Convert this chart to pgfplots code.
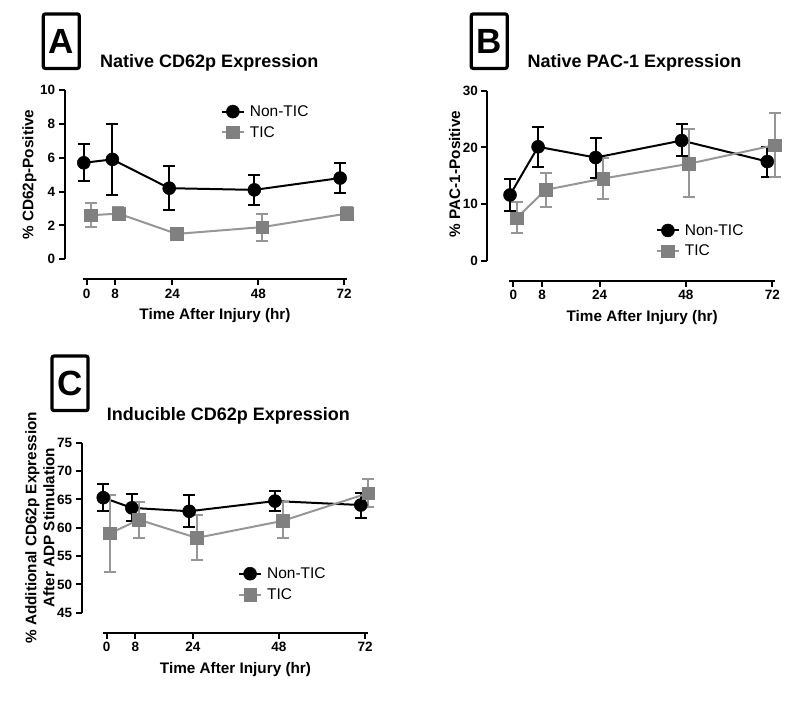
\documentclass[border=0pt]{standalone}
\usepackage{fontspec}
\setmainfont{Liberation Sans}
\usepackage{xcolor}
\usepackage{pgfplots}
\pgfplotsset{compat=1.18}
\definecolor{ticgray}{RGB}{128,128,128}
\definecolor{ticline}{RGB}{150,150,150}

\pgfplotsset{
  panel/.style={
    scale only axis,
    axis x line*=bottom, axis y line*=left,
    axis x line shift=20pt,
    xtick={0,8,24,48,72},
    tick align=outside, major tick length=6pt,
    axis line style={line width=2.2pt},
    tick style={line width=2pt, black},
    tick label style={font=\fontsize{13.5}{16}\selectfont\bfseries},
    /pgf/number format/assume math mode=true,
    label style={font=\fontsize{15.3}{18}\selectfont\bfseries},
    xlabel={Time After Injury (hr)},
    clip=false,
    legend cell align=left,
    legend style={draw=none, fill=none, anchor=west, row sep=6.5pt,
      inner sep=0pt, nodes={inner sep=1pt}, column sep=4pt,
      font=\fontsize{15.5}{17}\selectfont},
    legend image code/.code={
      \draw[mark repeat=2, mark phase=2, #1] plot coordinates {(0pt,0pt) (11pt,0pt) (22pt,0pt)};},
  },
  nontic/.style={black, line width=2pt, mark=*, mark size=6.5pt,
    mark options={solid, line width=0.5pt},
    error bars/.cd, y dir=both, y explicit,
    error bar style={line width=2pt, black},
    error mark options={rotate=90, mark size=6pt, line width=2pt, black}},
  tic/.style={ticline, line width=2pt, mark=square*, mark size=6.3pt,
    mark options={solid, line width=0.5pt, draw=ticgray, fill=ticgray},
    error bars/.cd, y dir=both, y explicit,
    error bar style={line width=2pt, ticline},
    error mark options={rotate=90, mark size=6pt, line width=2pt, ticline}},
}

% x  y  plus  minus
\pgfplotstableread{
x y ep em
-0.8 5.7 1.1 1.1
7.2 5.9 2.1 2.1
23.1 4.2 1.3 1.3
46.9 4.1 0.9 0.9
70.9 4.8 0.9 0.9
}\aNon
\pgfplotstableread{
x y ep em
1.1 2.6 0.7 0.7
8.9 2.7 0.4 0.4
25.2 1.5 0.2 0.2
49.1 1.9 0.8 0.8
72.8 2.7 0.4 0.4
}\aTic
\pgfplotstableread{
x y ep em
-0.9 11.6 2.8 2.8
6.9 20.1 3.5 3.5
22.9 18.2 3.4 3.6
46.8 21.2 2.9 2.8
70.6 17.5 2.6 2.7
}\bNon
\pgfplotstableread{
x y ep em
0.9 7.5 2.8 2.7
9.0 12.5 3.0 3.0
25.0 14.5 3.6 3.6
48.8 17.1 6.1 5.9
72.7 20.4 5.6 5.6
}\bTic
\pgfplotstableread{
x y ep em
-0.95 65.3 2.4 2.4
7.0 63.5 2.4 2.4
23.0 62.9 2.9 2.7
46.9 64.7 1.8 1.7
70.8 64.0 2.2 2.3
}\cNon
\pgfplotstableread{
x y ep em
0.9 59.0 6.8 6.8
9.0 61.4 3.2 3.3
25.1 58.2 4.0 3.9
49.0 61.2 3.3 3.1
72.9 66.1 2.5 2.4
}\cTic

\begin{document}
\begin{tikzpicture}
\useasboundingbox (0pt,0pt) rectangle (800pt,709pt);

% panel letters and titles
\foreach \px/\py/\lt in {61.3/667.8/A, 489.2/667.8/B, 70/325.7/C}{
  \node[draw, line width=3.2pt, rounded corners=2pt, minimum width=36pt,
        minimum height=54.5pt, font=\fontsize{35}{40}\selectfont\bfseries]
        at (\px pt,\py pt) {\lt};
}
\node[anchor=base west, font=\fontsize{18}{21}\selectfont\bfseries] at (96.7pt,641pt) {Native CD62p Expression};
\node[anchor=base west, font=\fontsize{18}{21}\selectfont\bfseries] at (524pt,641pt) {Native PAC-1 Expression};
\node[anchor=base west, font=\fontsize{18}{21}\selectfont\bfseries] at (103.3pt,288.3pt) {Inducible CD62p Expression};

% Panel A
\begin{axis}[panel,
  at={(82.7pt,449.7pt)}, anchor=south west,
  width=264.6pt, height=169.3pt,
  axis y line shift=18pt,
  xmin=-1.1, xmax=72.9, ymin=0, ymax=10, ytick={0,2,...,10},
  ylabel={\% CD62p-Positive},
  xlabel style={at={(axis description cs:0.5,-0.356)}, anchor=base},
  ylabel style={at={(axis description cs:-0.1867,0.5)}, anchor=base},
  legend style={at={(0.5215,0.811)}},
]
\addplot[nontic] table[x=x, y=y, y error plus=ep, y error minus=em] {\aNon};
\addlegendentry{Non-TIC}
\addplot[tic] table[x=x, y=y, y error plus=ep, y error minus=em] {\aTic};
\addlegendentry{TIC}
\end{axis}

% Panel B
\begin{axis}[panel,
  at={(509.3pt,448.3pt)}, anchor=south west,
  width=265.7pt, height=170pt,
  axis y line shift=22pt,
  xmin=-1.1, xmax=72.75, ymin=0, ymax=30, ytick={0,10,20,30},
  ylabel={\% PAC-1-Positive},
  xlabel style={at={(axis description cs:0.5,-0.355)}, anchor=base},
  ylabel style={at={(axis description cs:-0.1855,0.51)}, anchor=base},
  legend style={at={(0.551,0.1165)}},
]
\addplot[nontic] table[x=x, y=y, y error plus=ep, y error minus=em] {\bNon};
\addlegendentry{Non-TIC}
\addplot[tic] table[x=x, y=y, y error plus=ep, y error minus=em] {\bTic};
\addlegendentry{TIC}
\end{axis}

% Panel C
\begin{axis}[panel,
  at={(102.7pt,96.3pt)}, anchor=south west,
  width=265.6pt, height=170pt,
  axis y line shift=21pt,
  xmin=-1.1, xmax=72.9, ymin=45, ymax=75, ytick={45,50,...,75},
  ylabel={\% Additional CD62p Expression\\After ADP Stimulation},
  xlabel style={at={(axis description cs:0.5,-0.356)}, anchor=base},
  ylabel style={at={(axis description cs:-0.236,0.5)}, anchor=center, align=center},
  legend style={at={(0.509,0.168)}},
]
\addplot[nontic] table[x=x, y=y, y error plus=ep, y error minus=em] {\cNon};
\addlegendentry{Non-TIC}
\addplot[tic] table[x=x, y=y, y error plus=ep, y error minus=em] {\cTic};
\addlegendentry{TIC}
\end{axis}
\end{tikzpicture}
\end{document}
